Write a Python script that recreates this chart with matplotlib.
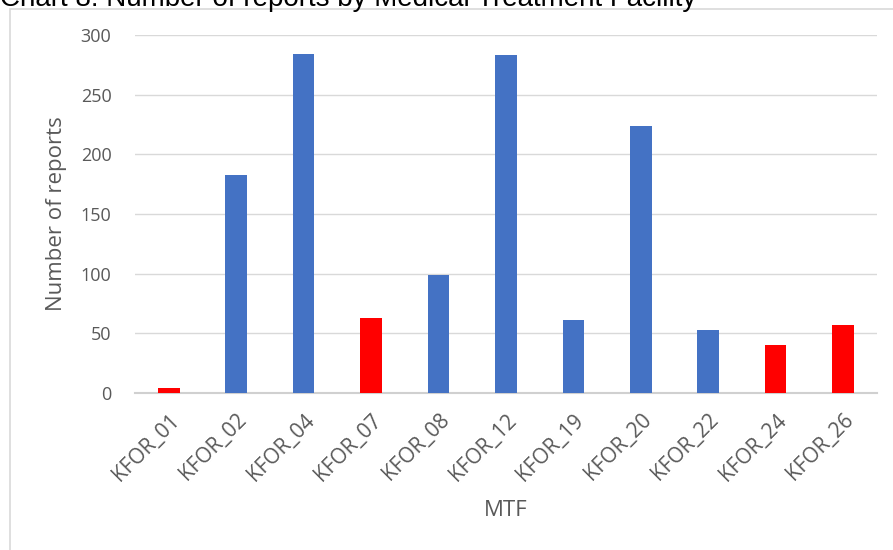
import matplotlib.pyplot as plt
from matplotlib.patches import Rectangle

# Number of reports by Medical Treatment Facility (MTF)
facilities = ["KFOR_01", "KFOR_02", "KFOR_04", "KFOR_07", "KFOR_08", "KFOR_12",
              "KFOR_19", "KFOR_20", "KFOR_22", "KFOR_24", "KFOR_26"]
reports = [4, 183, 284, 63, 99, 283, 61, 224, 53, 40, 57]
flagged = [True, False, False, True, False, False, False, False, False, True, True]

blue = "#4472C4"
red = "#FF0000"
grey_text = "#595959"

fig = plt.figure(figsize=(8.93, 5.5), dpi=100)
ax = fig.add_axes([0.1512, 0.2855, 0.8306, 0.6509])

colors = [red if f else blue for f in flagged]
x = range(len(facilities))
ax.bar(x, reports, width=0.32, color=colors, zorder=3)

ax.set_xlim(-0.5, len(facilities) - 0.5)
ax.set_ylim(0, 300)
ax.set_yticks(range(0, 301, 50))
ax.set_xticks(list(x))
ax.set_xticklabels(facilities, rotation=45, ha="right", rotation_mode="anchor",
                   fontsize=15, color=grey_text, family="Open Sans")
ax.tick_params(axis="x", length=0, pad=12)
ax.tick_params(axis="y", length=0, pad=17, labelsize=13, labelcolor=grey_text)
for lab in ax.get_yticklabels():
    lab.set_family("Open Sans")

ax.grid(axis="y", color="#D9D9D9", linewidth=1, zorder=0)
for s in ["top", "right", "left"]:
    ax.spines[s].set_visible(False)
ax.spines["bottom"].set_color("#D0D0D0")
ax.spines["bottom"].set_linewidth(1.5)

ax.set_xlabel("MTF", fontsize=16, color=grey_text, family="Open Sans", labelpad=11)
ax.set_ylabel("Number of reports", fontsize=16, color=grey_text, family="Open Sans", labelpad=10)

# chart frame (partly off the picture)
fig.patches.append(Rectangle((10 / 893, -0.1), 1.1, 1.1 - 9 / 550, transform=fig.transFigure,
                             fill=False, edgecolor="#D9D9D9", linewidth=1.2, clip_on=False))

# title, cut off at the top of the picture as in the source
fig.text(0, 1 - 6 / 550, "Chart 8: Number of reports by Medical Treatment Facility",
         fontsize=20, family="Liberation Sans", color="black", va="baseline", ha="left")

fig.savefig("out.png", dpi=100)
